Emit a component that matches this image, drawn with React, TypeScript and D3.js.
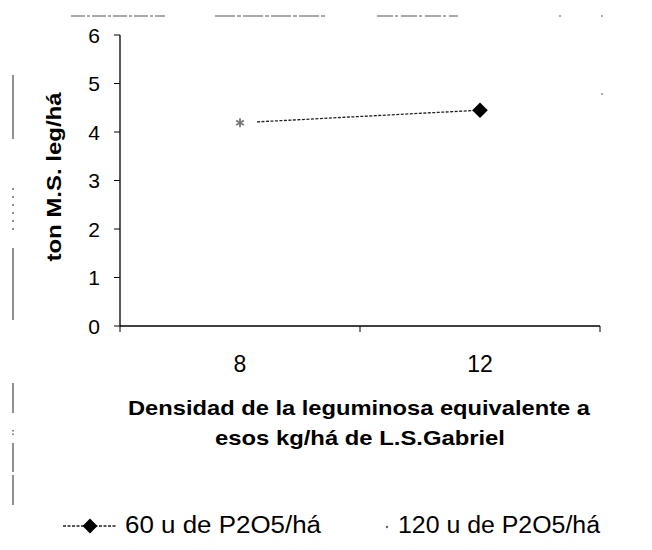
import React from "react";
import * as d3 from "d3";

const categories = ["8", "12"];
const series60 = [4.19, 4.45];
const series120 = [4.19];
const yTicks = [0, 1, 2, 3, 4, 5, 6];
const yLabel = "ton M.S. leg/há";
const xTitle = ["Densidad de la leguminosa equivalente a", "esos kg/há de L.S.Gabriel"];
const legendLabels = ["60 u de P2O5/há", "120 u de P2O5/há"];

const W = 652;
const H = 550;
const FONT = "'Liberation Sans', Arial, sans-serif";

export default function App() {
  const x = d3.scaleBand<string>().domain(categories).range([120, 600]);
  const y = d3.scaleLinear().domain([0, 6]).range([326, 35]);
  const cx = (c: string) => (x(c) ?? 0) + x.bandwidth() / 2;

  const pts60 = series60.map((v, i) => [cx(categories[i]), y(v)] as [number, number]);
  const [p0, p1] = pts60;
  const len = Math.hypot(p1[0] - p0[0], p1[1] - p0[1]);
  const gap = 17;
  const start: [number, number] = [p0[0] + ((p1[0] - p0[0]) * gap) / len, p0[1] + ((p1[1] - p0[1]) * gap) / len];
  const lineGen = d3.line();
  const linePath = lineGen([start, p1]) ?? "";

  const diamond = d3.symbol(d3.symbolSquare, 120)() ?? "";
  const legendDiamond = d3.symbol(d3.symbolSquare, 110)() ?? "";
  const asterisk = d3.symbol(d3.symbolAsterisk, 55)() ?? "";

  const bandEdges = [120, 360, 600];

  return (
    <svg
      width={W}
      height={H}
      style={{ position: "absolute", left: 0, top: 0, background: "#fff" }}
      fontFamily={FONT}
    >
      <rect x={0} y={0} width={W} height={H} fill="#fff" />
      {/* scan artifacts: top dashed border */}
      <g stroke="#555" strokeWidth={1.2}>
        <line x1={71} x2={165} y1={16} y2={16} strokeDasharray="14 2 3 2" />
        <line x1={215} x2={327} y1={16} y2={16} strokeDasharray="20 2 4 2" />
        <line x1={377} x2={458} y1={16} y2={16} strokeDasharray="16 2 3 3" />
        <line x1={559} x2={561} y1={16} y2={16} />
        <line x1={601} x2={603} y1={16} y2={16} />
        <line x1={601} x2={603} y1={94} y2={94} />
      </g>
      {/* scan artifacts: left border */}
      <g stroke="#555" strokeWidth={1.3}>
        <line x1={13} x2={13} y1={75} y2={139} />
        <line x1={13} x2={13} y1={188} y2={230} strokeDasharray="2 6" />
        <line x1={13} x2={13} y1={248} y2={320} />
        <line x1={13} x2={13} y1={383} y2={413} />
        <line x1={13} x2={13} y1={430} y2={435} strokeDasharray="1.5 2" />
        <line x1={13} x2={13} y1={443} y2={472} />
        <line x1={13} x2={13} y1={475} y2={505} />
      </g>

      {/* Y axis */}
      <line x1={120} x2={120} y1={y(6)} y2={y(0)} stroke="#000" strokeWidth={1.3} />
      {yTicks.map((t) => (
        <g key={t}>
          <line x1={114} x2={120} y1={y(t)} y2={y(t)} stroke="#000" strokeWidth={1} />
          <text
            x={100}
            y={y(t)}
            dy="0.36em"
            textAnchor="end"
            fontSize={21}
            fill="#000"
          >
            {t}
          </text>
        </g>
      ))}

      {/* X axis */}
      <line x1={120} x2={600} y1={y(0)} y2={y(0)} stroke="#000" strokeWidth={1.3} />
      {bandEdges.map((e) => (
        <line key={e} x1={e} x2={e} y1={y(0)} y2={y(0) + 6} stroke="#000" strokeWidth={1} />
      ))}
      {categories.map((c) => (
        <text key={c} x={cx(c)} y={372} textAnchor="middle" fontSize={23} fill="#000">
          {c}
        </text>
      ))}

      {/* Y label */}
      <text
        transform={`translate(61,177) rotate(-90)`}
        textAnchor="middle"
        fontSize={20}
        fontWeight="bold"
        textLength={169}
        lengthAdjust="spacingAndGlyphs"
        fill="#000"
      >
        {yLabel}
      </text>

      {/* X title */}
      <text x={359} y={415} textAnchor="middle" fontSize={21} fontWeight="bold" textLength={462} lengthAdjust="spacingAndGlyphs" fill="#000">
        {xTitle[0]}
      </text>
      <text x={360} y={445} textAnchor="middle" fontSize={21} fontWeight="bold" textLength={290} lengthAdjust="spacingAndGlyphs" fill="#000">
        {xTitle[1]}
      </text>

      {/* series 60 line */}
      <path d={linePath} fill="none" stroke="#222" strokeWidth={1.3} strokeDasharray="3 1.5" />
      <path d={diamond} transform={`translate(${p1[0]},${p1[1]}) rotate(45)`} fill="#000" />

      {/* series 120 markers */}
      {series120.map((v, i) => (
        <path
          key={i}
          d={asterisk}
          transform={`translate(${cx(categories[i])},${y(v)})`}
          fill="none"
          stroke="#777"
          strokeWidth={1.8}
        />
      ))}

      {/* Legend */}
      <line x1={63} x2={117} y1={526} y2={526} stroke="#222" strokeWidth={1.3} strokeDasharray="3 1.5" />
      <path d={legendDiamond} transform="translate(90,526) rotate(45)" fill="#000" />
      <text x={125} y={533} fontSize={23} textLength={196} lengthAdjust="spacingAndGlyphs" fill="#000">
        {legendLabels[0]}
      </text>
      <circle cx={387} cy={527} r={1.2} fill="#666" />
      <text x={398} y={533} fontSize={23} textLength={202} lengthAdjust="spacingAndGlyphs" fill="#000">
        {legendLabels[1]}
      </text>
    </svg>
  );
}
